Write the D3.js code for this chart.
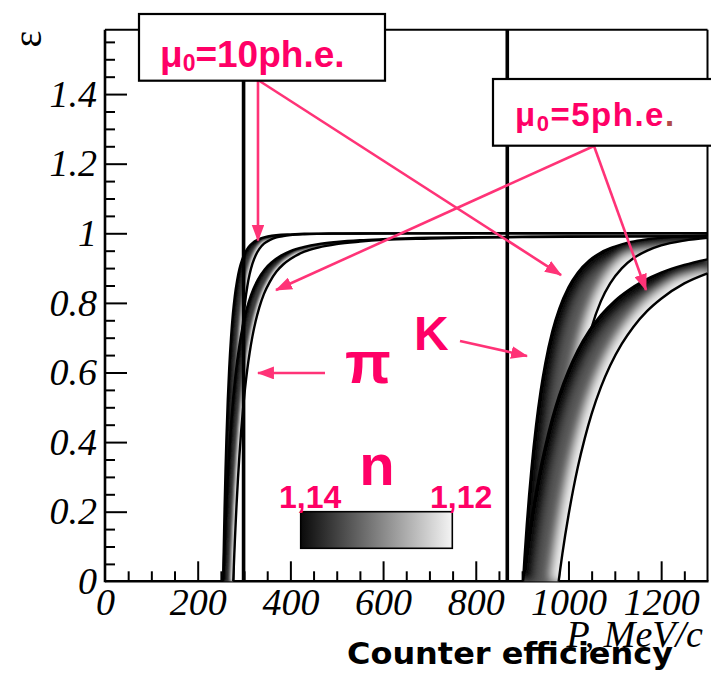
<!DOCTYPE html>
<html><head><meta charset="utf-8">
<script src="https://cdn.jsdelivr.net/npm/d3@7"></script>
<style>body{margin:0;background:#fff}svg{display:block}</style>
</head><body>
<svg id="c" width="711" height="679"></svg>
<script>
// ---------- data (efficiency vs momentum) ----------
// pions, n = 1.14
const piP_n114   = [255,256,257,258,260,262,265,268,272,276,280,285,290,296,303,310,320,330,345,360,380,400,430,460,500,550,600,700,800,900,1000,1150,1300];
const piE10_n114 = [0,0.076,0.144,0.207,0.317,0.410,0.524,0.612,0.702,0.769,0.819,0.864,0.897,0.924,0.946,0.961,0.974,0.982,0.989,0.993,0.996,0.997,0.9985,0.999,0.9994,0.9996,0.9997,0.9998,0.9999,0.9999,1,1,1];
const piE5_n114  = [0,0.039,0.075,0.110,0.174,0.232,0.310,0.377,0.454,0.519,0.574,0.631,0.678,0.725,0.768,0.802,0.839,0.867,0.897,0.917,0.936,0.949,0.961,0.969,0.975,0.980,0.983,0.987,0.989,0.990,0.991,0.991,0.992];
// pions, n = 1.12
const piP_n112   = [276.7,278,279,280,282,284,287,290,294,298,302,307,312,318,325,333,343,355,370,385,400,430,460,500,550,600,700,800,900,1000,1150,1300];
const piE10_n112 = [0,0.088,0.151,0.208,0.310,0.397,0.505,0.592,0.681,0.748,0.799,0.847,0.882,0.912,0.936,0.955,0.970,0.980,0.988,0.992,0.9946,0.9971,0.9983,0.999,0.9994,0.9996,0.9998,0.9999,0.9999,1,1,1];
const piE5_n112  = [0,0.045,0.078,0.110,0.169,0.224,0.297,0.361,0.435,0.498,0.552,0.609,0.656,0.703,0.747,0.787,0.826,0.859,0.890,0.911,0.926,0.947,0.959,0.969,0.976,0.981,0.985,0.988,0.989,0.990,0.991,0.9915];
// kaons, n = 1.14
const kP_n114    = [902,905,910,915,920,930,940,950,965,980,1000,1020,1045,1070,1100,1130,1160,1200,1250,1300];
const kE10_n114  = [0,0.065,0.162,0.247,0.322,0.448,0.548,0.627,0.718,0.783,0.845,0.887,0.922,0.945,0.962,0.974,0.981,0.987,0.992,0.994];
const kE5_n114   = [0,0.033,0.085,0.132,0.177,0.257,0.328,0.389,0.469,0.535,0.606,0.664,0.721,0.765,0.806,0.837,0.862,0.887,0.909,0.925];
// kaons, n = 1.12
const kP_n112    = [978.8,982,987,993,1000,1010,1020,1035,1050,1070,1090,1115,1140,1170,1200,1250,1300];
const kE10_n112  = [0,0.063,0.153,0.247,0.343,0.456,0.547,0.652,0.730,0.805,0.856,0.899,0.928,0.950,0.965,0.979,0.987];
const kE5_n112   = [0,0.032,0.080,0.133,0.189,0.262,0.327,0.410,0.481,0.558,0.620,0.682,0.731,0.777,0.812,0.856,0.885];
// vertical marker lines (MeV/c)
const dividerP = [299, 868];
// ticks
const xMajor = [0,200,400,600,800,1000,1200];
const xTickLabels = ["0","200","400","600","800","1000","1200"];
const yMajor = [0,0.2,0.4,0.6,0.8,1,1.2,1.4];
const yTickLabels = ["0","0.2","0.4","0.6","0.8","1","1.2","1.4"];

// ---------- drawing ----------
const svg = d3.select("#c");
const x = d3.scaleLinear().domain([0,1300]).range([105,707.5]);
const y = d3.scaleLinear().domain([0,1.585]).range([581.3,29.7]);
const PINK = "#ff0066", ARROW = "#ff3377";
const SERIF = "'Liberation Serif','Times New Roman',Times,serif";
const SANS = "'Liberation Sans',Arial,Helvetica,sans-serif";

const defs = svg.append("defs");
const g1 = defs.append("linearGradient").attr("id","nbar");
g1.append("stop").attr("offset","0%").attr("stop-color","#0a0a0a");
g1.append("stop").attr("offset","100%").attr("stop-color","#f4f4f4");
defs.append("filter").attr("id","blurK").attr("x","-20%").attr("y","-20%").attr("width","140%").attr("height","140%")
  .append("feGaussianBlur").attr("stdDeviation",5);
defs.append("filter").attr("id","blurPi").attr("x","-20%").attr("y","-20%").attr("width","140%").attr("height","140%")
  .append("feGaussianBlur").attr("stdDeviation",1.6);
const mk = defs.append("marker").attr("id","ah").attr("viewBox","0 0 16 12")
  .attr("refX",15).attr("refY",6).attr("markerWidth",17).attr("markerHeight",13)
  .attr("markerUnits","userSpaceOnUse").attr("orient","auto");
mk.append("path").attr("d","M0,0L16,6L0,12Z").attr("fill",ARROW);

// ticks
const yMinor = d3.range(0.05,1.58,0.05).filter(v => Math.abs(v*5 - Math.round(v*5)) > 1e-6);
const xMinor = d3.range(50,1300,50).filter(v => v % 200 !== 0);
function tickGroup(axis, tr){
  const g = svg.append("g").attr("transform",tr).call(axis);
  g.select(".domain").remove();
  g.selectAll("line").attr("stroke","#000").attr("stroke-width",2);
  g.selectAll("text").remove();
  return g;
}
tickGroup(d3.axisRight(y).tickValues(yMajor.filter(v=>v>0)).tickSize(22), "translate(105,0)");
tickGroup(d3.axisRight(y).tickValues(yMinor).tickSize(10), "translate(105,0)");
tickGroup(d3.axisTop(x).tickValues(xMajor.filter(v=>v>0)).tickSize(20), "translate(0,581.3)");
tickGroup(d3.axisTop(x).tickValues(xMinor).tickSize(10), "translate(0,581.3)");

// tick labels
const yl = svg.append("g").attr("transform","translate(105,0)")
  .call(d3.axisLeft(y).tickValues(yMajor).tickSize(0).tickPadding(8).tickFormat((d,i)=>yTickLabels[i]));
yl.select(".domain").remove();
yl.attr("font-family",SERIF).attr("font-size",38);
yl.selectAll("text").attr("font-family",SERIF).attr("font-style","italic").attr("font-size",38).attr("fill","#000");
const xl = svg.append("g").attr("transform","translate(0,581.3)")
  .call(d3.axisBottom(x).tickValues(xMajor).tickSize(0).tickPadding(7).tickFormat((d,i)=>xTickLabels[i]));
xl.select(".domain").remove();
xl.attr("font-family",SERIF).attr("font-size",38);
xl.selectAll("text").attr("font-family",SERIF).attr("font-style","italic").attr("font-size",38).attr("fill","#000");

// frame
svg.append("line").attr("x1",x(0)).attr("x2",x(1300)).attr("y1",y(1.585)).attr("y2",y(1.585)).attr("stroke","#000").attr("stroke-width",2);
svg.append("line").attr("x1",x(1300)).attr("x2",x(1300)).attr("y1",y(1.585)).attr("y2",y(0)).attr("stroke","#000").attr("stroke-width",2);
svg.append("line").attr("x1",x(0)).attr("x2",x(0)).attr("y1",y(1.585)).attr("y2",y(0)+1).attr("stroke","#000").attr("stroke-width",2.6);
svg.append("line").attr("x1",x(0)).attr("x2",x(1300)+1).attr("y1",y(0)).attr("y2",y(0)).attr("stroke","#000").attr("stroke-width",2.6);

// bands
const line = d3.line().x(d=>x(d[0])).y(d=>y(d[1])).curve(d3.curveMonotoneX);
const zipc = (P,E) => P.map((p,i)=>[p,E[i]]);
const bands = [
  {id:"k10", A:zipc(kP_n114,kE10_n114), B:zipc(kP_n112,kE10_n112), blur:"blurK", w:22, mid:"#5a5a5a"},
  {id:"k5",  A:zipc(kP_n114,kE5_n114),  B:zipc(kP_n112,kE5_n112),  blur:"blurK", w:22, mid:"#5a5a5a"},
  {id:"p10", A:zipc(piP_n114,piE10_n114), B:zipc(piP_n112,piE10_n112), blur:"blurPi", w:7, mid:"#404040"},
  {id:"p5",  A:zipc(piP_n114,piE5_n114),  B:zipc(piP_n112,piE5_n112),  blur:"blurPi", w:7, mid:"#404040"}
];
bands.forEach(b=>{
  const dBand = line(b.A) + "L" + line(b.B.slice().reverse()).slice(1) + "Z";
  defs.append("clipPath").attr("id","clip-"+b.id).append("path").attr("d",dBand);
  const g = svg.append("g").attr("clip-path",`url(#clip-${b.id})`);
  const inner = g.append("g").attr("filter",`url(#${b.blur})`);
  inner.append("path").attr("d",dBand).attr("fill",b.mid).attr("stroke",b.mid).attr("stroke-width",b.w*2);
  inner.append("path").attr("d",line(b.B)).attr("fill","none").attr("stroke","#f2f2f2").attr("stroke-width",b.w*0.7);
  inner.append("path").attr("d",line(b.A)).attr("fill","none").attr("stroke","#000").attr("stroke-width",b.w);
  svg.append("path").attr("d",line(b.A)).attr("fill","none").attr("stroke","#000").attr("stroke-width",2.4);
  svg.append("path").attr("d",line(b.B)).attr("fill","none").attr("stroke","#000").attr("stroke-width",2.4);
});

// vertical lines
svg.selectAll("line.div").data(dividerP).enter().append("line").attr("class","div")
  .attr("x1",d=>x(d)).attr("x2",d=>x(d)).attr("y1",y(1.585)).attr("y2",y(0))
  .attr("stroke","#000").attr("stroke-width",3.6);

// axis titles
svg.append("text").attr("transform","translate(27,39) rotate(-90)")
  .attr("text-anchor","middle").attr("dominant-baseline","central")
  .attr("font-family",SERIF).attr("font-size",40).text("ε");
svg.append("text").attr("x",703).attr("y",647).attr("text-anchor","end")
  .attr("font-family",SERIF).attr("font-style","italic").attr("font-size",38).text("P, MeV/c");
svg.append("text").attr("x",347).attr("y",664)
  .attr("font-family","'DejaVu Sans',sans-serif").attr("font-weight","bold").attr("font-size",30)
  .attr("textLength",326).attr("lengthAdjust","spacingAndGlyphs").text("Counter efficiency");

// refractive index legend
svg.append("rect").attr("x",300.7).attr("y",511.7).attr("width",151.6).attr("height",36.6)
  .attr("fill","url(#nbar)").attr("stroke","#000").attr("stroke-width",1.6);
const lab = (t,xx,yy,fs,anchor) => svg.append("text").attr("x",xx).attr("y",yy).attr("text-anchor",anchor||"start")
  .attr("font-family",SANS).attr("font-weight","bold").attr("font-size",fs).attr("fill",PINK).text(t);
lab("1,14",279,508,32);
lab("1,12",430,508,32);
lab("n",377,485,58,"middle");
lab("π",345,383,60);
lab("K",414,350,48);

// arrows
const arrows = [
  {from:[330.1,1.4405], to:[330.1,0.979]},
  {from:[330.1,1.4405], to:[984,0.880]},
  {from:[1055.1,1.2509], to:[369,0.837]},
  {from:[1055.1,1.2509], to:[1167.3,0.837]},
  {from:[474.7,0.5986], to:[330.1,0.5986]},
  {from:[766,0.6906], to:[910.5,0.6474]}
];
svg.selectAll("line.arr").data(arrows).enter().append("line").attr("class","arr")
  .attr("x1",d=>x(d.from[0])).attr("y1",d=>y(d.from[1]))
  .attr("x2",d=>x(d.to[0])).attr("y2",d=>y(d.to[1]))
  .attr("stroke",ARROW).attr("stroke-width",2.6).attr("marker-end","url(#ah)");

// label boxes
svg.append("rect").attr("x",139).attr("y",14).attr("width",246).attr("height",66.7)
  .attr("fill","#fff").attr("stroke","#000").attr("stroke-width",2.2);
const t1 = svg.append("text").attr("x",160).attr("y",66.5).attr("font-family",SANS)
  .attr("font-weight","bold").attr("font-size",37).attr("fill",PINK);
t1.append("tspan").text("μ");
t1.append("tspan").attr("font-size",23).attr("dy",4).text("0");
t1.append("tspan").attr("dy",-4).text("=10ph.e.");

svg.append("rect").attr("x",493).attr("y",79).attr("width",240).attr("height",66.7)
  .attr("fill","#fff").attr("stroke","#000").attr("stroke-width",2.2);
const t2 = svg.append("text").attr("x",515).attr("y",126).attr("font-family",SANS)
  .attr("font-weight","bold").attr("font-size",33).attr("letter-spacing",1.5).attr("fill",PINK);
t2.append("tspan").text("μ");
t2.append("tspan").attr("font-size",22).attr("dy",5).text("0");
t2.append("tspan").attr("dy",-5).text("=5ph.e");
t2.append("tspan").attr("fill","#b04a4a").text(".");
</script>
</body></html>
